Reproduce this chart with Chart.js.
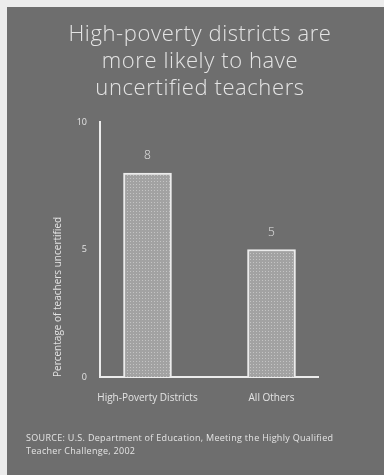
<!DOCTYPE html>
<html>
<head>
<meta charset="utf-8">
<script src="https://cdn.jsdelivr.net/npm/chart.js@4"></script>
<style>
  html, body { margin: 0; padding: 0; background: #ececec; }
  #panel { position: absolute; left: 7px; top: 7px; width: 377px; height: 468px; background: #6e6e6e; }
  #wrap { position: absolute; left: 0; top: 0; width: 384px; height: 475px; }
</style>
</head>
<body>
<div id="panel"></div>
<div id="wrap"><canvas id="c" width="384" height="475"></canvas></div>
<script>
// Share of teachers who are uncertified, by district type
const categories = ['High-Poverty Districts', 'All Others'];
const values = [8, 5];
const yTicks = [0, 5, 10];
const titleLines = ['High-poverty districts are', 'more likely to have', 'uncertified teachers'];
const sourceLines = [
  'SOURCE: U.S. Department of Education, Meeting the Highly Qualified',
  'Teacher Challenge, 2002'
];
const yTitle = 'Percentage of teachers uncertified';

const TEXT = '#e4e4e4';
const FONT = "'Open Sans', 'DejaVu Sans', sans-serif";

// light dotted fill for the bars
function dotPattern() {
  const p = document.createElement('canvas');
  p.width = 3; p.height = 3;
  const g = p.getContext('2d');
  g.fillStyle = '#a2a2a2';
  g.fillRect(0, 0, 3, 3);
  g.fillStyle = '#c4c4c4';
  g.fillRect(1, 1, 1, 1);
  return g.createPattern(p, 'repeat');
}
const ctx = document.getElementById('c').getContext('2d');

// headline, bar value labels and source note
const decorations = {
  id: 'decorations',
  afterDraw(chart) {
    const c = chart.ctx;
    c.save();
    c.fillStyle = TEXT;
    c.textAlign = 'center';
    c.textBaseline = 'middle';
    c.font = "300 22px " + FONT;
    c.letterSpacing = '0.6px';
    titleLines.forEach((t, i) => c.fillText(t, 200, 35 + i * 27));

    c.letterSpacing = '0px';
    const meta = chart.getDatasetMeta(0);
    c.font = "300 12px " + FONT;
    meta.data.forEach((bar, i) => {
      c.fillText(String(values[i]), bar.x, bar.y - 17);
    });

    c.textAlign = 'left';
    c.font = "9px " + FONT;
    c.letterSpacing = '0.3px';
    sourceLines.forEach((t, i) => c.fillText(t, 26, 438 + i * 13));
    c.restore();
  }
};

new Chart(ctx, {
  type: 'bar',
  data: {
    datasets: [{
      data: values.map((v, i) => ({ x: i + 1, y: v })),
      backgroundColor: dotPattern(),
      borderColor: '#ececec',
      borderWidth: 2,
      borderSkipped: 'bottom',
      barThickness: 48
    }]
  },
  options: {
    responsive: false,
    animation: false,
    events: [],
    layout: { padding: { left: 48, right: 66, top: 122, bottom: 68 } },
    plugins: { legend: { display: false }, tooltip: { enabled: false }, title: { display: false } },
    scales: {
      x: {
        type: 'linear',
        min: 0.617,
        max: 2.375,
        offset: false,
        bounds: 'data',
        grid: { display: false, offset: false },
        border: { color: '#ececec', width: 2 },
        afterBuildTicks(s) { s.ticks = categories.map((_, i) => ({ value: i + 1 })); },
        afterFit(s) { s.height = 30; },
        ticks: {
          color: TEXT,
          font: { family: FONT, size: 10 },
          padding: 7,
          maxRotation: 0,
          autoSkip: false,
          callback: (v) => categories[v - 1] || ''
        }
      },
      y: {
        min: 0,
        max: 10,
        grid: { display: false },
        border: { color: '#ececec', width: 2 },
        afterBuildTicks(s) { s.ticks = yTicks.map(v => ({ value: v })); },
        afterFit(s) { s.width = 52; },
        ticks: {
          color: TEXT,
          font: { family: FONT, size: 9 },
          padding: 5
        },
        title: {
          display: true,
          text: yTitle,
          align: 'start',
          color: TEXT,
          font: { family: FONT, size: 10 },
          padding: { top: 4, bottom: 0 }
        }
      }
    }
  },
  plugins: [decorations]
});
</script>
</body>
</html>
